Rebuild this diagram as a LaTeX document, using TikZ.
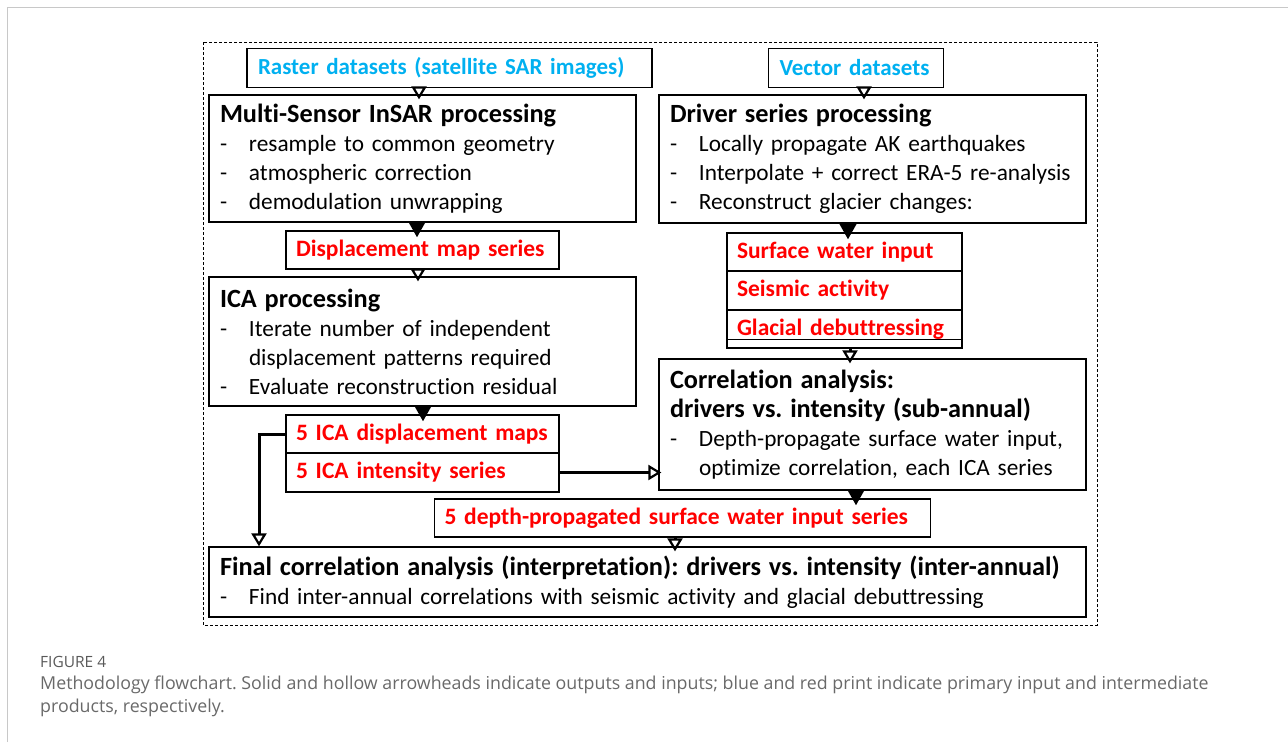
\documentclass[tikz,border=0pt]{standalone}
\usepackage{fontspec}
\setmainfont{Carlito}[Ligatures=NoCommon]
\newfontfamily\captionfont{Open Sans}
\usetikzlibrary{arrows.meta}
\usepackage{xcolor}
\definecolor{inputblue}{RGB}{0, 176, 240}
\definecolor{productred}{RGB}{255, 0, 0}
\definecolor{captiongray}{RGB}{105, 105, 105}
\definecolor{framegray}{RGB}{200, 200, 200}
\newcommand{\bul}[1]{\makebox[29pt][l]{-}#1}
\newcommand{\boxtitle}[1]{{\bfseries\fontsize{26.3}{29}\selectfont #1}}
\frenchspacing

\begin{document}
\begin{tikzpicture}[
    x=1pt, y=-1pt,
    box/.style={rectangle, draw=black, line width=1.3pt, inner xsep=11pt, inner ysep=0pt, align=left, font=\fontsize{23.3}{29}\selectfont},
    source/.style={box, font=\bfseries\fontsize{23}{26}\selectfont, text=inputblue},
    product/.style={box, inner xsep=10pt, font=\bfseries\fontsize{23.5}{26}\selectfont, text=productred},
    outarrow/.style={-{Triangle[width=17pt, length=16pt]}, line width=3pt, shorten >=-7pt},
    inarrow/.style={-{Triangle[open, width=15pt, length=13pt, line width=2.2pt]}, line width=3pt},
    captxt/.style={font=\captionfont\fontsize{17.8}{22.5}\selectfont, text=captiongray, align=left, inner sep=0pt}
]
\useasboundingbox (0,0) rectangle (1288,742);

% Page frame
\draw[framegray, line width=1pt] (7,742) -- (7,7) -- (1288,7);

% Outer dashed frame
\draw[line width=1pt, dash pattern=on 3pt off 2pt] (203,42) rectangle (1097,625);

% Primary inputs
\node[source, minimum width=405pt, minimum height=39pt, text width=383pt] (raster) at (449.5,68) {Raster datasets (satellite SAR images)};
\node[source, minimum width=175pt, minimum height=39pt, text width=153pt] (vector) at (856,68) {Vector datasets};

% InSAR processing
\node[box, minimum width=427pt, minimum height=127pt, text width=405pt] (insar) at (422.5,158.5) {\boxtitle{Multi-Sensor InSAR processing}\\
\bul{resample to common geometry}\\
\bul{atmospheric correction}\\
\bul{demodulation unwrapping}};

% Driver series processing
\node[box, minimum width=427pt, minimum height=128pt, text width=405pt] (drivers) at (872.5,159) {\boxtitle{Driver series processing}\\
\bul{Locally propagate AK earthquakes}\\
\bul{Interpolate + correct ERA-5 re-analysis}\\
\bul{Reconstruct glacier changes:}};

% Displacement maps
\node[product, minimum width=273pt, minimum height=38pt, text width=253pt] (dispseries) at (422.5,250) {Displacement map series};

% ICA processing
\node[box, minimum width=427pt, minimum height=129pt, text width=405pt] (ica) at (422.5,341.5) {\boxtitle{ICA processing}\\
\bul{Iterate number of independent}\\
\hspace*{29pt}displacement patterns required\\
\bul{Evaluate reconstruction residual}};

% Driver series
\node[product, minimum width=235pt, minimum height=38pt, text width=215pt] (waterin) at (844.5,252) {Surface water input};
\node[product, minimum width=235pt, minimum height=39pt, text width=215pt] (seismic) at (844.5,290.5) {Seismic activity};
\node[product, minimum width=235pt, minimum height=38pt, text width=215pt] (debutt) at (844.5,329) {Glacial debuttressing};
\draw[line width=1.3pt] ([yshift=9pt]debutt.south west) -- ([yshift=9pt]debutt.south east);

% Sub-annual correlation
\node[box, minimum width=427pt, minimum height=131pt, text width=405pt] (corr) at (872.5,424.5) {\boxtitle{Correlation analysis:}\\
\boxtitle{drivers vs. intensity (sub-annual)}\\
\bul{Depth-propagate surface water input,}\\
\hspace*{29pt}optimize correlation, each ICA series};

% ICA outputs
\node[product, minimum width=273pt, minimum height=38pt, text width=253pt] (icamaps) at (422.5,434) {5 ICA displacement maps};
\node[product, minimum width=273pt, minimum height=39pt, text width=253pt] (icaseries) at (422.5,472.5) {5 ICA intensity series};

% Depth-propagated series
\node[product, minimum width=496pt, minimum height=38pt, text width=476pt] (depthseries) at (682.5,518) {5 depth-propagated surface water input series};

% Final correlation
\node[box, minimum width=877pt, minimum height=70pt, text width=855pt] (final) at (647.5,582) {\boxtitle{Final correlation analysis (interpretation): drivers vs. intensity (inter-annual)}\\
\bul{Find inter-annual correlations with seismic activity and glacial debuttressing}};

% Arrows
\draw[inarrow, shorten >=-5pt] (raster.south -| 419,0) -- (insar.north -| 419,0);
\draw[inarrow, shorten >=-5pt] (vector.south -| 864,0) -- (drivers.north -| 864,0);
\draw[outarrow] (insar.south -| 417,0) -- (dispseries.north -| 417,0);
\draw[inarrow, shorten >=-5pt] (dispseries.south -| 418,0) -- (ica.north -| 418,0);
\draw[outarrow] (ica.south -| 423,0) -- (icamaps.north -| 423,0);
\draw[outarrow] (drivers.south -| 848,0) -- (waterin.north -| 848,0);
\draw[inarrow, shorten >=-5pt] (debutt.south -| 850,0) -- (corr.north -| 850,0);
\draw[inarrow, shorten >=-3pt] (icaseries.east) -- (corr.west |- icaseries.east);
\draw[outarrow] (corr.south -| 856,0) -- (depthseries.north -| 856,0);
\draw[inarrow, shorten >=-5pt] (depthseries.south -| 675,0) -- (final.north -| 675,0);
\draw[inarrow] (icamaps.west) -| (final.north -| 259,0);

% Caption
\node[captxt, anchor=west, font=\captionfont\fontsize{15.5}{20}\selectfont, text=captiongray!85!black] (figlabel) at (40,662) {FIGURE 4};
\node[captxt, anchor=north west] (figcaption) at (40,676) {Methodology flowchart. Solid and hollow arrowheads indicate outputs and inputs; blue and red print indicate primary input and intermediate\\products, respectively.};

\end{tikzpicture}
\end{document}
